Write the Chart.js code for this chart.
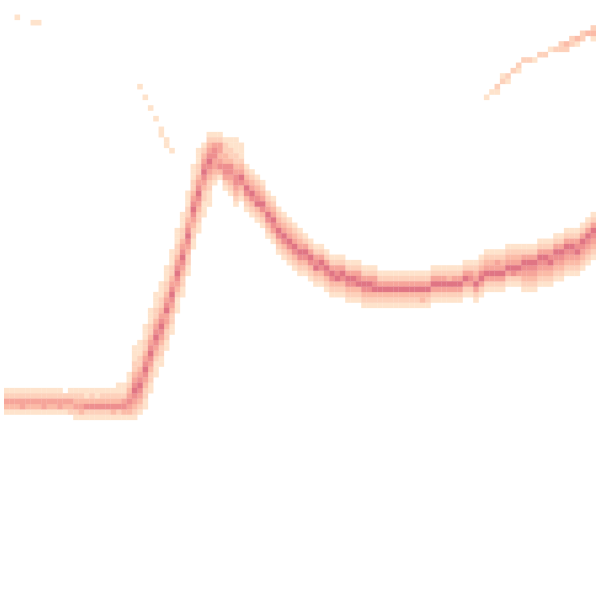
<!DOCTYPE html>
<html>
<head>
<meta charset="utf-8">
<title>Line density</title>
<script src="https://cdn.jsdelivr.net/npm/chart.js@4.4.1/dist/chart.umd.min.js"></script>
<style>
  html, body { margin: 0; padding: 0; background: #ffffff; }
  #wrap { width: 600px; height: 600px; }
</style>
</head>
<body>
<div id="wrap"><canvas id="density"></canvas></div>
<script>
// grid size (bins along x and along y)
var nCols = 111;
var nRows = 111;

// main band: first filled row of each column, then the level of each cell going down (0 = empty)
var bandTop = [
  72, 72, 72, 72, 72, 72, 72, 72, 72, 72, 72, 72, 72, 72, 72, 72, 72, 72, 72, 72,
  72, 71, 71, 69, 64, 63, 60, 57, 54, 52, 49, 46, 42, 39, 35, 30, 27, 26, 24, 24,
  24, 25, 25, 25, 26, 30, 31, 32, 33, 35, 36, 38, 39, 40, 41, 42, 43, 44, 45, 45,
  46, 47, 47, 47, 48, 48, 48, 49, 49, 49, 50, 50, 50, 50, 50, 50, 50, 50, 50, 50,
  49, 49, 49, 49, 49, 49, 48, 48, 48, 47, 46, 46, 46, 46, 45, 45, 45, 45, 45, 45,
  44, 44, 44, 43, 43, 42, 42, 42, 41, 40, 39
];

var bandLevels = [
  "12431", "12431", "12431", "12441", "12431", "12431", "12431", "12441", "12431", "12431",
  "12441", "02431", "12432", "123421", "123431", "113521", "123521", "113521", "123521", "123521",
  "123531", "1123521", "1124531", "112345431",
  "11122345654321", "11122345654321", "1112234565432211", "1112234565432211",
  "1112234565432111", "1112234565432211", "1112234564432211", "1112234565432211",
  "1112234565432111", "1112234565432211", "1112234565432211", "1112234565432211",
  "1112234565432211", "12345654322111", "12345654322111",
  "1245544321", "124434531", "1223355421", "11223554321", "1112234554321", "11123465321",
  "123465321", "123465321", "123456321", "123465321", "123465321",
  "123465421", "123465321", "123465321", "123465321", "123465321", "123465321",
  "12465321", "12465321", "12456321", "12465321", "12465321", "12465321", "12456321",
  "12465321", "12465321", "12465321", "12456321", "12465321", "12465321", "12456321",
  "1246321", "1246321", "1246321", "1246321", "1246321", "1246321", "1246321", "1246321",
  "1246331", "1246321", "1246421",
  "1246421", "1246421", "1236421", "1246421", "1246421", "1246421", "1245421",
  "12346421", "12356421", "12346421", "12346421", "12446421", "12346421", "12346421",
  "12346521", "12346421",
  "124654321", "124654321", "124654321", "124654321", "124654321", "124564321",
  "124654321", "124654321", "124654321", "124654321", "124564321", "124654321",
  "124654321", "124654321"
];

// faint single traces: [column, row, level]
var strayCells = [
  [2, 2, 1], [5, 3, 1], [6, 3, 1],
  [25, 15, 1], [26, 17, 1], [27, 19, 1], [28, 21, 1], [29, 23, 1], [29, 24, 1],
  [30, 25, 1], [30, 26, 1], [31, 27, 1],
  [90, 17, 1], [91, 16, 1], [92, 16, 1], [92, 15, 2], [93, 14, 2], [93, 13, 1],
  [94, 14, 1], [94, 13, 2], [95, 12, 2], [96, 12, 1], [96, 11, 2], [97, 10, 2],
  [98, 10, 2], [99, 10, 1], [100, 9, 2], [101, 9, 2], [102, 8, 1], [103, 8, 2],
  [104, 8, 2], [104, 7, 2], [105, 8, 2], [105, 7, 3], [106, 7, 2], [106, 6, 2],
  [107, 7, 1], [107, 6, 3], [108, 6, 2], [108, 5, 2], [109, 5, 3], [110, 6, 1],
  [110, 5, 3], [110, 4, 2]
];

// colour per count level, light to dark
var levelColors = ['#fee3cc', '#fdd1bb', '#fbbba7', '#f6a59a', '#ee8f8f', '#e07584'];

// build the cell list from the arrays above
var cells = [];
bandTop.forEach(function (top, c) {
    var s = bandLevels[c];
    for (var i = 0; i < s.length; i++) {
        var v = parseInt(s[i], 10);
        if (v > 0) {
            cells.push({ x: c + 0.5, y: top + i + 0.5, v: v });
        }
    }
});
strayCells.forEach(function (cell) {
    cells.push({ x: cell[0] + 0.5, y: cell[1] + 0.5, v: cell[2] });
});
// draw the darker cells last
cells.sort(function (a, b) { return a.v - b.v; });

// half-diagonal of one square cell, a hair bigger so neighbours meet without seams
function cellRadius(chart) {
    var area = chart.chartArea;
    var w = area ? area.width : 600;
    return (w / nCols + 0.25) / Math.SQRT2;
}

var ctx = document.getElementById('density').getContext('2d');
var densityChart = new Chart(ctx, {
    type: 'scatter',
    data: {
        datasets: [{
            data: cells,
            pointStyle: 'rect',
            pointRadius: function (c) { return cellRadius(c.chart); },
            pointHoverRadius: function (c) { return cellRadius(c.chart); },
            pointBorderWidth: 0,
            pointBackgroundColor: function (c) {
                return c.raw ? levelColors[c.raw.v - 1] : levelColors[0];
            }
        }]
    },
    options: {
        responsive: true,
        maintainAspectRatio: false,
        animation: false,
        events: [],
        layout: { padding: 0 },
        plugins: {
            legend: { display: false },
            tooltip: { enabled: false }
        },
        scales: {
            x: { type: 'linear', min: 0, max: nCols, display: false },
            y: { type: 'linear', min: 0, max: nRows, reverse: true, display: false }
        }
    }
});
</script>
</body>
</html>
